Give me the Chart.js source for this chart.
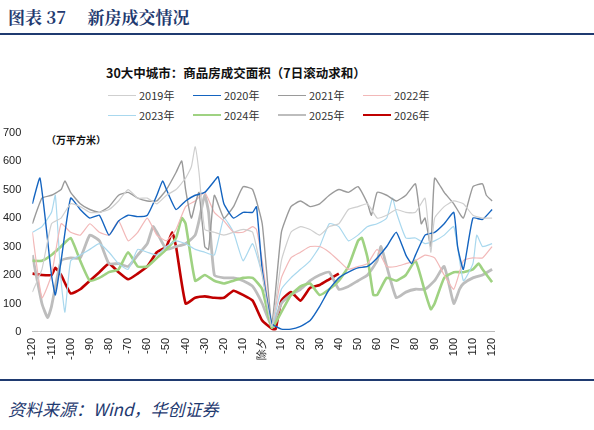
<!DOCTYPE html>
<html><head><meta charset="utf-8">
<script src="https://cdn.jsdelivr.net/npm/chart.js@4"></script>
<style>
body{margin:0;width:594px;height:430px;background:#fff;font-family:"Noto Sans CJK SC",sans-serif;position:relative;overflow:hidden}
#t{position:absolute;left:8px;top:4px;font-size:17px;font-weight:bold;color:#1f3a70;font-family:"Noto Serif CJK SC","Noto Sans CJK SC",serif}
#l1{position:absolute;left:0;top:33px;width:594px;height:2px;background:#1f3a70}
#l2{position:absolute;left:0;top:379px;width:594px;height:2px;background:#1f3a70}
#src{position:absolute;left:8px;top:396px;font-size:17px;font-style:italic;color:#1f3a70;font-family:"Noto Sans CJK SC",serif}
#sub{position:absolute;left:106px;top:63px;font-size:12.5px;font-weight:bold;color:#111}
#leg{position:absolute;left:108px;top:87px;width:400px;display:grid;grid-template-columns:repeat(4,85px);row-gap:4px;font-size:11px;color:#333}
#leg span{display:flex;align-items:center}
#leg i{display:inline-block;width:28px;margin-right:3px}
#unit{position:absolute;left:46px;top:132px;font-size:10px;font-weight:bold;color:#111}
#wrap{position:absolute;left:0;top:123px;width:594px;height:240px}
</style></head><body>
<div id="t">图表 37　 新房成交情况</div><div id="l1"></div>
<div id="sub">30大中城市：商品房成交面积（7日滚动求和）</div>
<div id="leg"></div>
<div id="unit">（万平方米）</div>
<div id="wrap"><canvas id="c"></canvas></div>
<div id="l2"></div>
<div id="src">资料来源：Wind，华创证券</div>
<script>
const xTicks = [-120,-110,-100,-90,-80,-70,-60,-50,-40,-30,-20,-10,0,10,20,30,40,50,60,70,80,90,100,110,120];
const zeroLabel = "除夕";

const x2026 = [-120,-115,-110,-108,-105,-100,-95,-90,-85,-80,-75,-70,-65,-60,-55,-50,-47,-45,-40,-35,-30,-25,-20,-15,-10,-5,0,5,7,10,15,20,25,30,35,40];
const y2026 = [205,200,200,225,200,135,150,180,210,240,210,185,205,230,280,300,350,300,100,120,125,120,120,145,130,110,40,12,10,110,140,110,155,165,185,205];

const x2020 = [-120,-116,-110,-108,-105,-100,-95,-90,-85,-80,-75,-70,-65,-60,-55,-52,-50,-45,-40,-35,-30,-25,-23,-20,-15,-10,-5,-3,0,5,10,15,20,25,30,35,40,45,50,55,60,65,70,75,78,80,85,90,95,100,102,105,110,115,120];
const y2020 = [450,540,200,130,250,470,430,400,410,340,390,410,405,410,480,530,500,430,460,480,490,530,545,450,400,420,420,440,220,30,10,10,20,40,90,150,190,210,225,230,260,300,350,270,240,270,340,350,380,420,300,220,400,395,430];

const x2021 = [-120,-115,-110,-105,-103,-100,-95,-90,-85,-80,-75,-70,-65,-60,-55,-50,-45,-42,-40,-37,-35,-33,-30,-28,-25,-20,-15,-10,-5,0,5,10,15,20,25,30,35,40,45,50,55,57,60,65,70,75,80,83,85,88,90,95,100,105,110,115,117,120];
const y2021 = [380,470,480,500,530,490,450,430,420,440,480,490,470,460,460,500,560,600,500,400,450,490,300,290,480,400,440,510,500,380,30,350,440,460,440,450,480,500,490,510,450,410,490,480,460,480,520,380,400,300,540,490,450,400,510,520,480,460];

const x2019 = [-120,-115,-110,-105,-100,-95,-90,-85,-80,-75,-70,-65,-60,-55,-50,-45,-40,-37,-35,-33,-30,-25,-20,-15,-10,-5,0,5,10,15,20,25,30,35,40,45,50,55,60,65,70,75,80,85,88,90,95,100,105,110,115,120];
const y2019 = [140,220,380,400,450,440,420,420,430,460,500,470,470,450,480,500,540,580,650,560,360,350,340,350,360,350,200,20,250,350,370,360,340,370,380,430,440,450,400,410,430,420,420,470,280,400,440,460,450,410,400,400];

const x2022 = [-120,-115,-110,-105,-100,-95,-90,-85,-80,-75,-70,-65,-60,-55,-50,-45,-40,-35,-30,-25,-20,-15,-10,-5,-3,0,5,10,15,20,25,30,35,40,45,50,55,60,65,70,75,80,85,90,95,100,105,110,115,120];
const y2022 = [350,120,200,380,350,340,380,350,340,390,320,350,400,340,320,360,440,460,490,420,390,350,350,370,360,250,30,190,260,280,300,300,280,250,220,230,240,290,230,230,240,250,270,260,200,150,250,260,260,300];

const x2023 = [-120,-115,-110,-108,-105,-103,-100,-95,-90,-85,-80,-75,-70,-65,-60,-55,-50,-45,-40,-35,-30,-25,-20,-15,-10,-5,0,5,10,15,20,25,30,35,40,45,50,55,60,65,68,70,75,80,85,90,95,100,105,110,112,115,120];
const y2023 = [350,370,420,480,180,70,250,270,290,310,280,240,220,290,280,270,300,320,310,290,280,270,400,350,250,310,200,20,150,190,220,250,300,380,370,320,340,370,380,400,470,420,330,330,310,320,340,370,180,240,340,300,310];

const x2024 = [-120,-115,-110,-105,-100,-95,-90,-85,-80,-75,-70,-65,-60,-55,-50,-45,-42,-40,-35,-30,-25,-20,-15,-10,-5,0,5,10,15,20,25,30,35,40,45,50,52,55,58,60,65,70,75,80,85,88,90,95,100,105,110,113,115,120];
const y2024 = [250,250,270,300,330,250,180,190,210,220,280,230,230,260,290,330,400,380,180,200,180,170,180,190,190,150,15,70,130,160,170,130,150,180,230,320,330,260,130,130,190,180,200,250,140,80,100,190,210,210,220,240,220,175];

const x2025 = [-120,-115,-112,-110,-105,-100,-95,-90,-85,-80,-75,-70,-65,-60,-57,-55,-50,-45,-40,-35,-33,-30,-28,-25,-20,-15,-10,-5,0,5,10,15,20,25,30,35,40,45,50,55,60,62,65,70,75,80,85,90,95,100,103,105,110,115,120];
const y2025 = [270,100,50,90,250,260,260,340,320,240,240,230,270,310,370,350,290,300,310,340,390,480,420,200,190,190,180,160,100,20,100,130,150,180,200,210,150,160,180,200,250,300,230,120,140,150,150,180,230,100,150,170,190,200,220];

const series = [
  {label:"2019年", xs:x2019, ys:y2019, color:"#cfcfcf", w:1.2},
  {label:"2020年", xs:x2020, ys:y2020, color:"#1464c0", w:1.4},
  {label:"2021年", xs:x2021, ys:y2021, color:"#9a9a9a", w:1.4},
  {label:"2022年", xs:x2022, ys:y2022, color:"#f2b8b8", w:1.2},
  {label:"2023年", xs:x2023, ys:y2023, color:"#a9d8ee", w:1.2},
  {label:"2024年", xs:x2024, ys:y2024, color:"#9fd282", w:2.6},
  {label:"2025年", xs:x2025, ys:y2025, color:"#bdbdbd", w:2.8},
  {label:"2026年", xs:x2026, ys:y2026, color:"#c00000", w:2.6}
];

document.getElementById("leg").innerHTML = series.map(s =>
  `<span><i style="border-top:${Math.max(1.5,s.w)}px solid ${s.color}"></i>${s.label}</span>`).join("");

new Chart(document.getElementById("c"), {
  type: "line",
  data: {
    datasets: series.map(s => ({
      label: s.label,
      data: s.xs.map((x, i) => ({x, y: s.ys[i]})),
      borderColor: s.color, borderWidth: s.w, pointRadius: 0, tension: 0.15, fill: false
    }))
  },
  options: {
    responsive: true, maintainAspectRatio: false, animation: false,
    layout: {padding: {left: 0, right: 100, top: 4, bottom: 0}},
    plugins: {legend: {display: false}, tooltip: {enabled: false}},
    scales: {
      x: {
        type: "linear", min: -120, max: 121,
        afterBuildTicks: a => { a.ticks = xTicks.map(v => ({value: v})); },
        ticks: {maxRotation: 90, minRotation: 90, autoSkip: false, color: "#222",
          font: {size: 11, family: "Liberation Sans"},
          callback: v => v === 0 ? zeroLabel : v},
        grid: {display: false, drawTicks: true, tickLength: 3},
        border: {color: "#bbb"}
      },
      y: {
        min: 0, max: 700,
        ticks: {stepSize: 100, color: "#222", font: {size: 11, family: "Liberation Sans"}},
        grid: {display: false},
        border: {display: false}
      }
    }
  }
});
</script>
</body></html>
